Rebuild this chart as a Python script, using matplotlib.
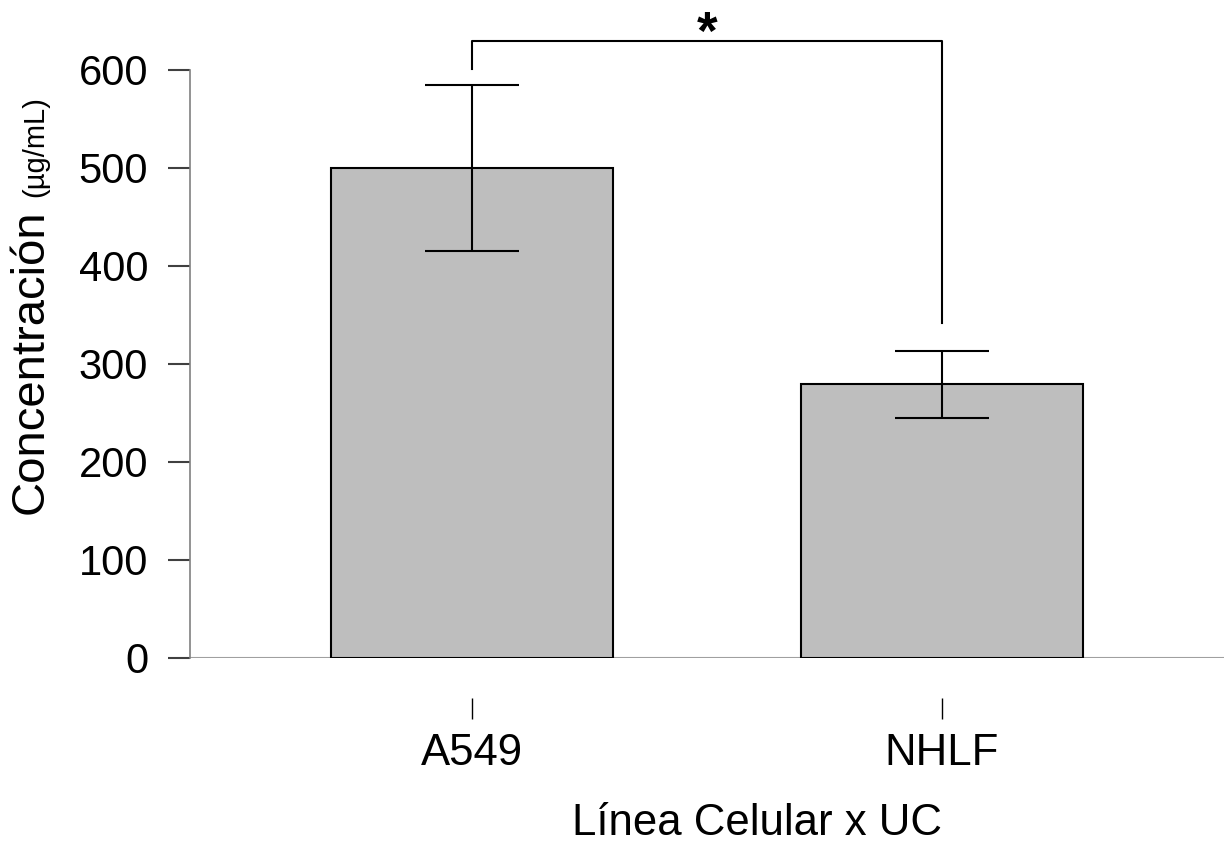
import matplotlib
matplotlib.use("Agg")
import matplotlib.pyplot as plt

plt.rcParams['font.family'] = ['Liberation Sans', 'DejaVu Sans']

categories = ["A549", "NHLF"]
means = [500, 279]
errors = [85, 34]
yticks = [0, 100, 200, 300, 400, 500, 600]
sig_y = 630
sig_left_bottom = 601
sig_right_bottom = 342
sig_label = "*"
xlabel = "Línea Celular x UC"
ylabel_main = "Concentración"
ylabel_unit = "(µg/mL)"

W, H = 1224, 842
fig = plt.figure(figsize=(W / 100, H / 100), dpi=100)
y0_px, ytop_px = 657.7, 21.0
ax = fig.add_axes([190 / W, 1 - y0_px / H, (W - 190) / W, (y0_px - ytop_px) / H])

x = list(range(len(categories)))
ax.bar(x, means, width=0.6, color="#bebebe", edgecolor="black", linewidth=1.5, zorder=2)
ax.errorbar(x, means, yerr=errors, fmt="none", ecolor="black", elinewidth=1.5,
            capsize=34, capthick=1.5, zorder=3)

ax.set_xlim(-0.6, 1.6)
ax.set_ylim(0, 650)

# significance bracket
ax.plot([x[0], x[0], x[1], x[1]], [sig_left_bottom, sig_y, sig_y, sig_right_bottom],
        color="black", linewidth=1.5, clip_on=False, zorder=3)
ax.text((x[0] + x[1]) / 2, 621, sig_label, ha="center", va="baseline",
        fontsize=38, fontweight="bold", clip_on=False)

# spines
for s in ["top", "right"]:
    ax.spines[s].set_visible(False)
ax.spines["left"].set_bounds(0, 600)
ax.spines["left"].set_color("#808080")
ax.spines["left"].set_linewidth(1.2)
ax.spines["bottom"].set_position(("outward", 29))
ax.spines["bottom"].set_visible(False)
ax.axhline(0, color="#a0a0a0", linewidth=1.5, zorder=1)

ax.set_yticks(yticks)
ax.set_yticklabels([str(v) for v in yticks])
ax.tick_params(axis="y", direction="out", length=15.8, width=1.5, color="#404040",
               pad=14.4, labelsize=30)
ax.set_xticks(x)
ax.set_xticklabels(categories)
ax.tick_params(axis="x", direction="out", length=15.1, width=1.0, color="black",
               pad=10, labelsize=31.5)

fig.text(757 / W, 1 - 835 / H, xlabel, ha="center", va="baseline", fontsize=31.5)

# y label: main + smaller unit
bx = 43 / W
t1 = fig.text(bx, 1 - 514 / H, ylabel_main, rotation=90, rotation_mode="anchor",
              ha="left", va="baseline", fontsize=34)
fig.canvas.draw()
r = fig.canvas.get_renderer()
bb = t1.get_window_extent(r)
gap = 12
fig.text(bx, (bb.y1 + gap) / H, ylabel_unit, rotation=90, rotation_mode="anchor",
         ha="left", va="baseline", fontsize=21)

fig.savefig("out.png", dpi=100)
